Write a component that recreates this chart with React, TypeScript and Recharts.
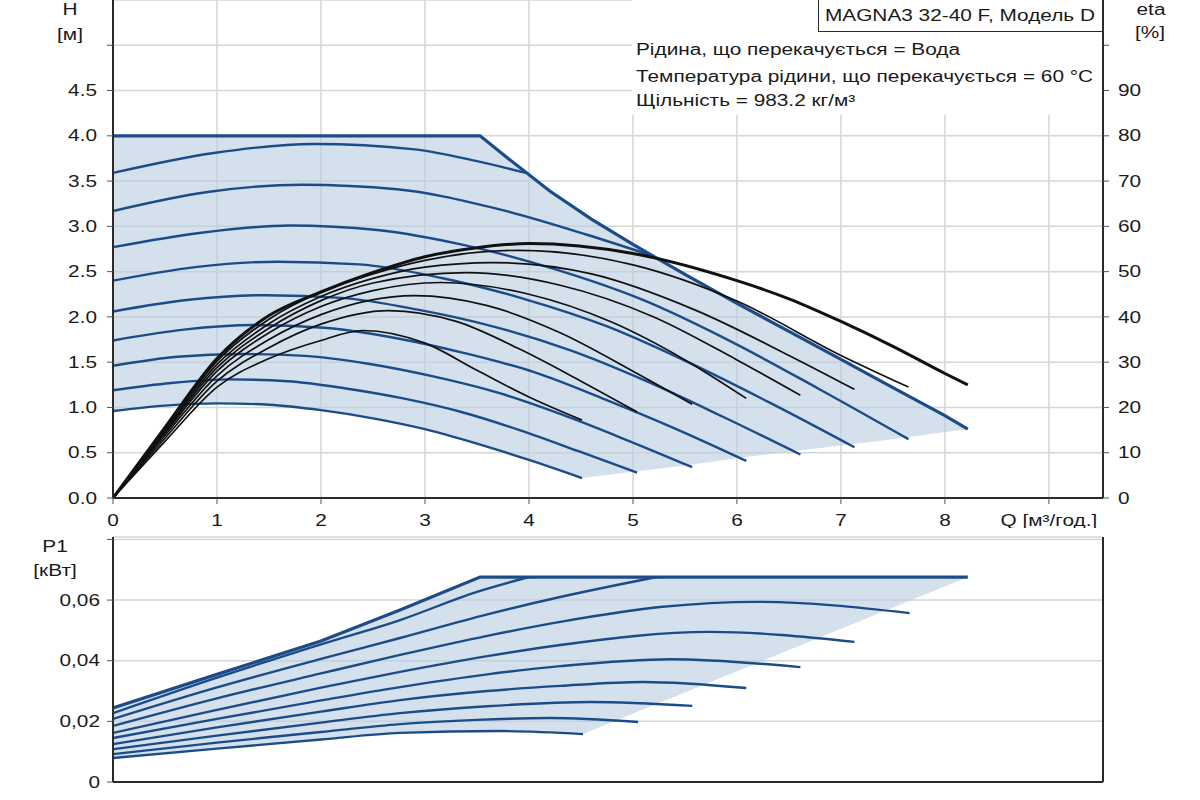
import React from 'react';
import { ComposedChart, Line, Area, XAxis, YAxis, CartesianGrid } from 'recharts';

const FONT = '"Liberation Sans", Arial, sans-serif';
const TEXT = '#1a1a1a';
const BLUE = '#1c4c87';
const SHADE = '#b8cce0';
const STRETCH = 1.3;

// Q [m3/h] ticks and value ticks
const qTicks = [0, 1, 2, 3, 4, 5, 6, 7, 8, 9];
const hTicks = [0, 0.5, 1, 1.5, 2, 2.5, 3, 3.5, 4, 4.5, 5];
const etaTicks = [0, 10, 20, 30, 40, 50, 60, 70, 80, 90, 100];
const pTicks = [0, 0.02, 0.04, 0.06, 0.08];

// head curves [Q, H]
const hA = [[0, 0.96], [0.5, 1.02], [1, 1.045], [1.5, 1.03], [2, 0.97], [2.5, 0.88], [3, 0.76], [3.5, 0.6], [4, 0.42], [4.51, 0.22]];
const hB = [[0, 1.19], [0.56, 1.27], [1.12, 1.31], [1.68, 1.29], [2.24, 1.21], [2.79, 1.1], [3.35, 0.95], [3.91, 0.75], [4.47, 0.52], [5.04, 0.28]];
const hC = [[0, 1.46], [0.62, 1.56], [1.24, 1.59], [1.85, 1.57], [2.47, 1.48], [3.09, 1.34], [3.71, 1.16], [4.32, 0.92], [4.94, 0.64], [5.57, 0.34]];
const hD = [[0, 1.74], [0.68, 1.86], [1.35, 1.91], [2.03, 1.88], [2.7, 1.77], [3.38, 1.6], [4.05, 1.39], [4.73, 1.09], [5.4, 0.77], [6.09, 0.41]];
const hE = [[0, 2.06], [0.73, 2.19], [1.47, 2.24], [2.2, 2.21], [2.93, 2.08], [3.67, 1.89], [4.4, 1.63], [5.13, 1.29], [5.86, 0.9], [6.61, 0.48]];
const hF = [[0, 2.4], [0.79, 2.55], [1.58, 2.61], [2.37, 2.58], [3.16, 2.43], [3.95, 2.2], [4.74, 1.9], [5.53, 1.5], [6.32, 1.05], [7.13, 0.56]];
const hG = [[0, 2.77], [0.85, 2.93], [1.7, 3.01], [2.54, 2.96], [3.39, 2.79], [4.24, 2.53], [5.09, 2.19], [5.94, 1.73], [6.78, 1.21], [7.65, 0.65]];
const hH = [[0, 3.17], [0.91, 3.38], [1.82, 3.46], [2.73, 3.41], [3.64, 3.21], [4.55, 2.91], [5.2, 2.67]];
const hI = [[0, 3.59], [0.97, 3.81], [1.93, 3.91], [2.9, 3.85], [3.5, 3.72], [3.97, 3.59]];
const hMax = [[0, 4], [3.53, 4], [3.8, 3.75], [4.2, 3.39], [4.6, 3.08], [5, 2.8], [5.5, 2.47], [6, 2.15], [6.5, 1.84], [7, 1.53], [7.5, 1.22], [8, 0.91], [8.22, 0.76]];

// operating range [Q, low, high]
const hRange = [[0, 0.96, 4], [0.5, 1.02, 4], [1, 1.045, 4], [1.5, 1.03, 4], [2, 0.97, 4], [2.5, 0.88, 4], [3, 0.76, 4], [3.5, 0.6, 4], [3.53, 0.59, 4], [3.8, 0.5, 3.75], [4.2, 0.34, 3.39], [4.51, 0.22, 3.15], [5, 0.29, 2.8], [5.5, 0.36, 2.47], [6, 0.44, 2.15], [6.5, 0.51, 1.84], [7, 0.58, 1.53], [7.5, 0.65, 1.22], [8, 0.73, 0.91], [8.22, 0.76, 0.76]];

// efficiency curves [Q, eta %]
const etaA = [[0, 0], [0.5, 12.5], [1, 24.5], [1.5, 30.8], [2, 34.8], [2.4, 37], [3, 34.2], [3.5, 28.2], [4, 22.3], [4.51, 17.2]];
const etaB = [[0, 0], [0.5, 13.2], [1, 25.8], [1.5, 33.2], [2, 38.4], [2.65, 41.4], [3.3, 39], [3.9, 33], [4.5, 25.8], [5.04, 19]];
const etaC = [[0, 0], [0.5, 13.8], [1, 27], [1.5, 35], [2, 40.5], [2.9, 44.7], [3.6, 42.5], [4.3, 36.5], [5, 28], [5.57, 20.7]];
const etaD = [[0, 0], [0.5, 14.3], [1, 28], [1.5, 36.5], [2, 42.3], [2.5, 45.8], [3.15, 47.6], [4, 45], [4.8, 38.8], [5.5, 30.5], [6.09, 22]];
const etaE = [[0, 0], [0.5, 14.7], [1, 28.8], [1.5, 37.5], [2, 43.6], [2.5, 47.5], [3.4, 49.8], [4.3, 47], [5.2, 40], [6, 30.5], [6.61, 22.7]];
const etaF = [[0, 0], [0.5, 15], [1, 29.5], [1.5, 38.5], [2, 44.5], [2.5, 48.5], [3, 51], [3.65, 52], [4.6, 49.5], [5.6, 41.5], [6.5, 31.5], [7.13, 24]];
const etaG = [[0, 0], [0.5, 15.3], [1, 30.2], [1.5, 39.5], [2, 45.5], [2.5, 49.5], [3, 52.5], [3.9, 54.7], [5, 51.5], [6, 43.5], [7, 31.5], [7.65, 24.5]];
const etaMax = [[0, 0], [0.5, 15.6], [1, 30.8], [1.5, 40.3], [2, 45.5], [2.5, 49.8], [3, 53.3], [3.5, 55.3], [4, 56.2], [5, 54], [6, 48], [6.5, 44], [7, 39], [7.5, 33.5], [8, 27.5], [8.22, 25]];

// power curves [Q, P1 kW]
const pA = [[0, 0.0079], [1, 0.011], [2, 0.014], [2.76, 0.0162], [3.72, 0.0168], [4.52, 0.0158]];
const pB = [[0, 0.0092], [1, 0.013], [2, 0.0165], [2.76, 0.0191], [3.5, 0.0205], [4.2, 0.0211], [5.05, 0.0198]];
const pC = [[0, 0.0108], [1, 0.0153], [2, 0.0196], [2.76, 0.0227], [3.6, 0.025], [4.6, 0.0264], [5.57, 0.0251]];
const pD = [[0, 0.0125], [1, 0.018], [2, 0.0232], [2.76, 0.027], [3.6, 0.03], [4.3, 0.0317], [5.1, 0.033], [6.09, 0.031]];
const pE = [[0, 0.0145], [1, 0.0208], [2, 0.0269], [2.76, 0.0313], [3.6, 0.0355], [4.3, 0.0382], [5.36, 0.0405], [6.61, 0.0379]];
const pF = [[0, 0.0162], [1, 0.0238], [2, 0.0311], [2.76, 0.0363], [3.6, 0.0415], [4.3, 0.0452], [5.74, 0.0495], [7.13, 0.0462]];
const pG = [[0, 0.0185], [1, 0.0276], [2, 0.0358], [2.76, 0.0419], [3.6, 0.0482], [4.3, 0.0528], [5.26, 0.0577], [6.2, 0.0594], [7.66, 0.0557]];
const pH = [[0, 0.0208], [1, 0.0312], [2, 0.0406], [2.76, 0.0475], [3.6, 0.0553], [4.3, 0.061], [5.23, 0.0676]];
const pI = [[0, 0.0227], [1, 0.0344], [2, 0.0454], [2.76, 0.0534], [3.5, 0.0627], [4, 0.0676]];
const pMax = [[0, 0.0244], [1, 0.0355], [2, 0.0465], [2.76, 0.0567], [3.53, 0.0676], [8.22, 0.0676]];

const pRange = [[0, 0.0079, 0.0244], [1, 0.011, 0.0355], [2, 0.014, 0.0465], [2.76, 0.0162, 0.0567], [3.53, 0.0167, 0.0676], [3.72, 0.0168, 0.0676], [4.52, 0.0158, 0.0676], [8.22, 0.0676, 0.0676]];

const hCurves = [hA, hB, hC, hD, hE, hF, hG, hH, hI];
const etaCurves = [etaA, etaB, etaC, etaD, etaE, etaF, etaG];
const pCurves = [pA, pB, pC, pD, pE, pF, pG, pH, pI];

const pts = (c: number[][]) => c.map(([q, v]) => ({ q, v }));
const band = (c: number[][]) => c.map(([q, lo, hi]) => ({ q, r: [lo, hi] }));

const makeTick =
  (anchor: 'start' | 'middle' | 'end', fmt: (v: number) => string, dy = 0) =>
  (props: any) => {
    const { x, y, payload } = props;
    const label = fmt(payload.value);
    if (!label) return <g />;
    return (
      <g transform={`translate(${x},${y + dy})`}>
        <text
          transform={`scale(${STRETCH},1)`}
          textAnchor={anchor}
          dominantBaseline="central"
          fontSize={16}
          fontFamily={FONT}
          fill={TEXT}
        >
          {label}
        </text>
      </g>
    );
  };

const xTick = makeTick('middle', (v) => (v === 9 ? 'Q [м³/год.]' : String(v)), 14);
const hTick = makeTick('end', (v) => (v >= 5 ? '' : v.toFixed(1)));
const etaTick = makeTick('start', (v) => (v >= 100 ? '' : String(v)));
const pTick = makeTick('end', (v) => (v >= 0.08 ? '' : v === 0 ? '0' : v.toFixed(2).replace('.', ',')));

const Label = ({ x, y, text, align = 'center' }: { x: number; y: number; text: string; align?: 'center' | 'left' }) => (
  <div
    style={{
      position: 'absolute',
      left: x,
      top: y,
      fontFamily: FONT,
      fontSize: 16,
      lineHeight: '18px',
      color: TEXT,
      whiteSpace: 'nowrap',
      transformOrigin: align === 'left' ? 'left center' : 'center center',
      transform: align === 'left' ? `translateY(-50%) scaleX(${STRETCH})` : `translate(-50%, -50%) scaleX(${STRETCH})`,
    }}
  >
    {text}
  </div>
);

const axisLine = { stroke: '#2a2a2a', strokeWidth: 2 };
const tickLine = { stroke: '#555' };

export default function App() {
  return (
    <div style={{ position: 'absolute', left: 0, top: 0, width: 1200, height: 800, background: '#fff', overflow: 'hidden' }}>
      <div style={{ position: 'absolute', left: 0, top: 0 }}>
        <ComposedChart width={1200} height={528} margin={{ top: 0, right: 37, left: 53, bottom: 0 }}>
          <CartesianGrid stroke="#d6d6d6" strokeWidth={1.5} />
          <XAxis
            type="number"
            dataKey="q"
            domain={[0, 9.52]}
            ticks={qTicks}
            interval={0}
            allowDataOverflow
            height={30}
            axisLine={axisLine}
            tickLine={tickLine}
            tick={xTick}
          />
          <YAxis
            type="number"
            domain={[0, 5.5]}
            ticks={hTicks}
            interval={0}
            allowDataOverflow
            width={60}
            tickMargin={10}
            axisLine={axisLine}
            tickLine={tickLine}
            tick={hTick}
          />
          <YAxis
            yAxisId="eta"
            orientation="right"
            type="number"
            domain={[0, 110]}
            ticks={etaTicks}
            interval={0}
            allowDataOverflow
            width={60}
            tickMargin={9}
            axisLine={axisLine}
            tickLine={tickLine}
            tick={etaTick}
          />
          <Area
            data={band(hRange)}
            dataKey="r"
            type="linear"
            stroke="none"
            fill={SHADE}
            fillOpacity={0.6}
            isAnimationActive={false}
          />
          {hCurves.map((c, i) => (
            <Line
              key={`h${i}`}
              data={pts(c)}
              dataKey="v"
              type="monotone"
              stroke={BLUE}
              strokeWidth={2.4}
              dot={false}
              isAnimationActive={false}
            />
          ))}
          <Line data={pts(hMax)} dataKey="v" type="linear" stroke={BLUE} strokeWidth={3.2} dot={false} isAnimationActive={false} />
          {etaCurves.map((c, i) => (
            <Line
              key={`e${i}`}
              yAxisId="eta"
              data={pts(c)}
              dataKey="v"
              type="monotone"
              stroke="#111"
              strokeWidth={1.7}
              dot={false}
              isAnimationActive={false}
            />
          ))}
          <Line yAxisId="eta" data={pts(etaMax)} dataKey="v" type="monotone" stroke="#111" strokeWidth={3} dot={false} isAnimationActive={false} />
        </ComposedChart>
      </div>

      <div style={{ position: 'absolute', left: 0, top: 530 }}>
        <ComposedChart width={1200} height={270} margin={{ top: 7, right: 37, left: 53, bottom: 0 }}>
          <CartesianGrid stroke="#d6d6d6" strokeWidth={1.5} />
          <XAxis
            type="number"
            dataKey="q"
            domain={[0, 9.52]}
            ticks={qTicks}
            interval={0}
            allowDataOverflow
            height={18}
            axisLine={axisLine}
            tickLine={tickLine}
            tick={false}
          />
          <XAxis
            xAxisId="top"
            orientation="top"
            type="number"
            domain={[0, 9.52]}
            height={0}
            axisLine={axisLine}
            tickLine={false}
            tick={false}
          />
          <YAxis
            type="number"
            domain={[0, 0.0808]}
            ticks={pTicks}
            interval={0}
            allowDataOverflow
            width={60}
            tickMargin={7}
            axisLine={axisLine}
            tickLine={tickLine}
            tick={pTick}
          />
          <YAxis yAxisId="edge" orientation="right" type="number" domain={[0, 1]} width={60} axisLine={axisLine} tickLine={false} tick={false} />
          <Area
            data={band(pRange)}
            dataKey="r"
            type="linear"
            stroke="none"
            fill={SHADE}
            fillOpacity={0.6}
            isAnimationActive={false}
          />
          {pCurves.map((c, i) => (
            <Line
              key={`p${i}`}
              data={pts(c)}
              dataKey="v"
              type="monotone"
              stroke={BLUE}
              strokeWidth={2.4}
              dot={false}
              isAnimationActive={false}
            />
          ))}
          <Line data={pts(pMax)} dataKey="v" type="linear" stroke={BLUE} strokeWidth={3.2} dot={false} isAnimationActive={false} />
        </ComposedChart>
      </div>

      {/* note panel */}
      <div style={{ position: 'absolute', left: 632, top: 0, width: 470, height: 115, background: '#fff' }} />
      <div
        style={{
          position: 'absolute',
          left: 818,
          top: -3,
          width: 283,
          height: 33,
          border: '1.5px solid #2a2a2a',
          background: '#fff',
        }}
      />
      <Label x={960} y={16} text="MAGNA3 32-40 F, Модель D" />
      <Label x={636} y={50} text="Рідина, що перекачується = Вода" align="left" />
      <Label x={636} y={77} text="Температура рідини, що перекачується = 60 °C" align="left" />
      <Label x={636} y={101} text="Щільність = 983.2 кг/м³" align="left" />

      {/* axis titles */}
      <Label x={70} y={10} text="H" />
      <Label x={70} y={35} text="[м]" />
      <Label x={1151} y={10} text="eta" />
      <Label x={1150} y={33} text="[%]" />
      <Label x={55} y={547} text="P1" />
      <Label x={55} y={571} text="[кВт]" />
    </div>
  );
}
